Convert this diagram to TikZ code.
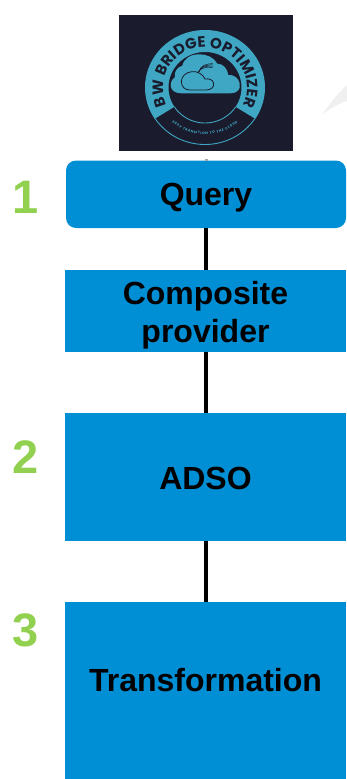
\documentclass[tikz,border=0pt]{standalone}
\usepackage{fontspec}
\setmainfont{Liberation Sans}
\newfontfamily\logofont{Poppins}
\usetikzlibrary{decorations.text}
\definecolor{boxblue}{HTML}{008FD5}
\definecolor{numgreen}{HTML}{92D050}
\definecolor{logobg}{HTML}{1A1B2C}
\definecolor{logoteal}{HTML}{3FA7C4}
\tikzset{
  stagebox/.style={fill=boxblue,draw=none,inner sep=0pt,outer sep=0pt,text=black,
    font=\fontsize{32}{38.5}\selectfont\bfseries,align=center,text width=281pt},
  stepnum/.style={anchor=base west,inner sep=0pt,text=numgreen,
    font=\fontsize{47}{47}\selectfont\bfseries},
  link/.style={line width=3.5pt,draw=black},
}
\begin{document}
\begin{tikzpicture}[x=1pt,y=-1pt]
\useasboundingbox (0,0) rectangle (347,779);
% faint background swoosh
\fill[black!6] (322,115) .. controls (330,103) and (338,93) .. (347,85) -- (347,101) .. controls (338,104) and (329,109) .. (322,115) -- cycle;
% logo
\fill[logobg] (119,15) rectangle (293,151);
\fill[logoteal,even odd rule] plot[domain=147:393,samples=90] ({205+60*cos(\x)},{87.5+57.5*sin(\x)})
  -- plot[domain=393:147,samples=90] ({205+36.5*cos(\x)},{87.5+35.5*sin(\x)}) -- cycle;
\draw[logoteal,line width=.9pt] plot[domain=147:33,samples=40] ({205+59.5*cos(\x)},{87.5+57*sin(\x)});
\draw[logoteal,line width=.9pt] plot[domain=147:33,samples=40] ({205+36.5*cos(\x)},{87.5+35.5*sin(\x)});
\path[decorate,decoration={text along path,text align={fit to path},
  text={|\logofont\bfseries\fontsize{15}{15}\selectfont\color{logobg}|BW BRIDGE OPTIMIZER}}]
  (167,105) arc[start angle=155,end angle=381,x radius=42,y radius=40.5];
\path[decorate,decoration={text along path,text align={fit to path},
  text={|\logofont\bfseries\fontsize{3.4}{4}\selectfont\color{logoteal}|EASY TRANSITION TO THE CLOUD}}]
  (172.2,122.4) arc[start angle=132,end angle=48,x radius=49,y radius=47];
\begin{scope}[shift={(119,15)},x=.3333pt,y=-.3333pt]
  \fill[logoteal] (190,235) -- (335,235) .. controls (355,235) and (366,222) .. (362,205)
    .. controls (359,190) and (345,178) .. (328,180)
    .. controls (325,160) and (312,146) .. (295,146)
    .. controls (285,127) and (262,117) .. (240,118)
    .. controls (215,118) and (195,130) .. (190,152)
    .. controls (172,158) and (165,172) .. (168,186)
    .. controls (155,195) and (152,212) .. (158,222)
    .. controls (165,233) and (178,235) .. (190,235) -- cycle;
  \draw[logobg,line width=.8pt] (212,225) -- (262,225) .. controls (277,225) and (286,215) .. (284,205)
    .. controls (282,194) and (270,190) .. (258,192)
    .. controls (252,178) and (236,168) .. (218,170)
    .. controls (200,172) and (187,185) .. (187,200)
    .. controls (187,215) and (198,225) .. (212,225) -- cycle;
  \foreach \d in {0,6,12,18}
    \draw[logobg,line width=.5pt] (236+\d*.3,172-\d*.1) .. controls (245,160-\d*.6) and (262,153-\d*.3) .. (281,158-\d*.7);
\end{scope}
% boxes
\node[stagebox,minimum height=67.5pt,minimum width=280pt,text width=280pt,rounded corners=10pt,text height=44.5pt,text depth=23pt] (query) at (206,194.25) {Query};
\node[stagebox,minimum height=82pt,text height=34pt,text depth=48pt] (comp) at (205.5,311) {Composite\\provider};
\node[stagebox,minimum height=128pt,text height=76pt,text depth=52pt] (adso) at (205.5,477) {ADSO};
\node[stagebox,minimum height=177pt,text height=89pt,text depth=88pt] (trans) at (205.5,690.5) {Transformation};
% connectors
\coordinate (stub) at (206,158.5);
\draw[line width=3pt,draw=black!35] (stub) -- (query.north);
\draw[link] (query.south) -- ([xshift=.5pt]comp.north);
\draw[link] ([xshift=.5pt]comp.south) -- ([xshift=.5pt]adso.north);
\draw[link] ([xshift=.5pt]adso.south) -- ([xshift=.5pt]trans.north);
% numbers
\node[stepnum] (n1) at (12,213) {1};
\node[stepnum] (n2) at (12.5,473) {2};
\node[stepnum] (n3) at (12.5,646) {3};
\end{tikzpicture}
\end{document}
